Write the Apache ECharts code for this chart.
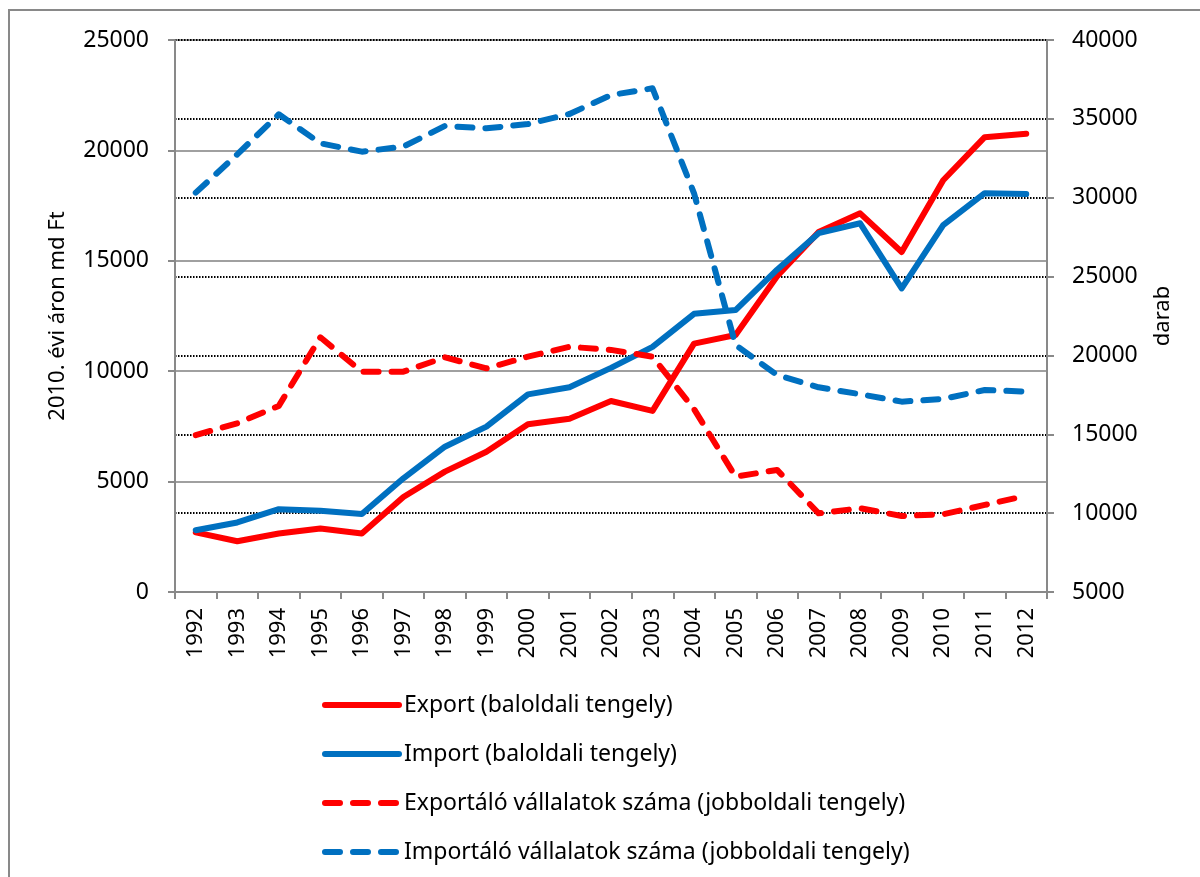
<!DOCTYPE html>
<html>
<head>
<meta charset="utf-8">
<script src="https://cdn.jsdelivr.net/npm/echarts@6/dist/echarts.min.js"></script>
<style>
  html, body { margin: 0; padding: 0; background: #fff; }
  #chart { width: 1200px; height: 877px; }
</style>
</head>
<body>
<div id="chart"></div>
<script>
  var years = ['1992','1993','1994','1995','1996','1997','1998','1999','2000','2001','2002',
               '2003','2004','2005','2006','2007','2008','2009','2010','2011','2012'];
  // baloldali tengely (md Ft)
  var exportVal = [2700, 2300, 2650, 2880, 2650, 4300, 5450, 6350, 7600, 7850, 8650,
                   8200, 11250, 11640, 14300, 16300, 17150, 15400, 18650, 20600, 20750];
  var importVal = [2800, 3150, 3750, 3680, 3530, 5150, 6580, 7490, 8950, 9270, 10150,
                   11100, 12600, 12770, 14600, 16250, 16700, 13750, 16620, 18060, 18020];
  // jobboldali tengely (darab)
  var exportFirms = [14950, 15700, 16800, 21150, 18970, 18970, 19880, 19180, 19920, 20550, 20350,
                     19920, 16600, 12310, 12740, 9990, 10310, 9820, 9930, 10520, 11100];
  var importFirms = [30320, 32750, 35290, 33450, 32920, 33240, 34550, 34400, 34670, 35310, 36510,
                     36940, 30280, 20660, 18760, 17980, 17540, 17070, 17240, 17810, 17700];

  var names = ['Export (baloldali tengely)', 'Import (baloldali tengely)',
               'Exportáló vállalatok száma (jobboldali tengely)',
               'Importáló vállalatok száma (jobboldali tengely)'];

  var font = '"Noto Sans", "DejaVu Sans", sans-serif';
  var axisGray = '#898989';

  var myChart = echarts.init(document.getElementById('chart'));

  function lineSeries(name, data, color, axis, dashed) {
    return {
      name: name,
      type: 'line',
      yAxisIndex: axis,
      data: data,
      symbol: 'none',
      animation: false,
      lineStyle: {
        color: color,
        width: 6,
        type: dashed ? [15, 13] : 'solid',
        cap: 'round',
        join: 'round'
      },
      itemStyle: { color: color }
    };
  }

  // no thousands separator on the axes
  function plain(v) { return String(v); }

  myChart.setOption({
    backgroundColor: '#fff',
    textStyle: { fontFamily: font },
    graphic: [{
      type: 'rect',
      shape: { x: 9, y: 10, width: 1300, height: 1000 },
      style: { fill: 'none', stroke: axisGray, lineWidth: 2 },
      silent: true
    }],
    grid: { left: 175, right: 153, top: 40, bottom: 285 },
    legend: {
      orient: 'vertical',
      left: 317,
      top: 687,
      itemWidth: 74,
      itemHeight: 14,
      itemGap: 23,
      data: names,
      itemStyle: { opacity: 0 },
      lineStyle: { width: 6, cap: 'round' },
      textStyle: { fontSize: 23, lineHeight: 26, color: '#000', fontFamily: font }
    },
    xAxis: {
      type: 'category',
      data: years,
      boundaryGap: true,
      axisLine: { lineStyle: { color: axisGray, width: 2 } },
      axisTick: { show: true, interval: 0, length: 7, lineStyle: { color: axisGray, width: 2 } },
      axisLabel: { interval: 0, rotate: 90, fontSize: 22, color: '#000', margin: 16 },
      splitLine: { show: false }
    },
    yAxis: [
      {
        type: 'value',
        min: 0, max: 25000, interval: 5000,
        name: '2010. évi áron md Ft',
        nameLocation: 'middle',
        nameGap: 106,
        nameTextStyle: { fontSize: 22, color: '#000' },
        axisLine: { show: true, lineStyle: { color: axisGray, width: 2 } },
        axisTick: { show: true, length: 7, lineStyle: { color: axisGray, width: 2 } },
        axisLabel: { fontSize: 23, color: '#000', margin: 26, formatter: plain },
        splitLine: { show: true, lineStyle: { color: '#a0a0a0', width: 2 } }
      },
      {
        type: 'value',
        min: 5000, max: 40000, interval: 5000,
        name: 'darab',
        nameLocation: 'middle',
        nameGap: 105,
        nameTextStyle: { fontSize: 22, color: '#000' },
        axisLine: { show: true, lineStyle: { color: axisGray, width: 2 } },
        axisTick: { show: true, length: 7, lineStyle: { color: axisGray, width: 2 } },
        axisLabel: { fontSize: 23, color: '#000', margin: 25, formatter: plain },
        splitLine: { show: true, lineStyle: { color: '#000', width: 2, type: [1.5, 1.5] } }
      }
    ],
    series: [
      lineSeries(names[0], exportVal, '#ff0000', 0, false),
      lineSeries(names[1], importVal, '#0070c0', 0, false),
      lineSeries(names[2], exportFirms, '#ff0000', 1, true),
      lineSeries(names[3], importFirms, '#0070c0', 1, true)
    ]
  });
</script>
</body>
</html>
